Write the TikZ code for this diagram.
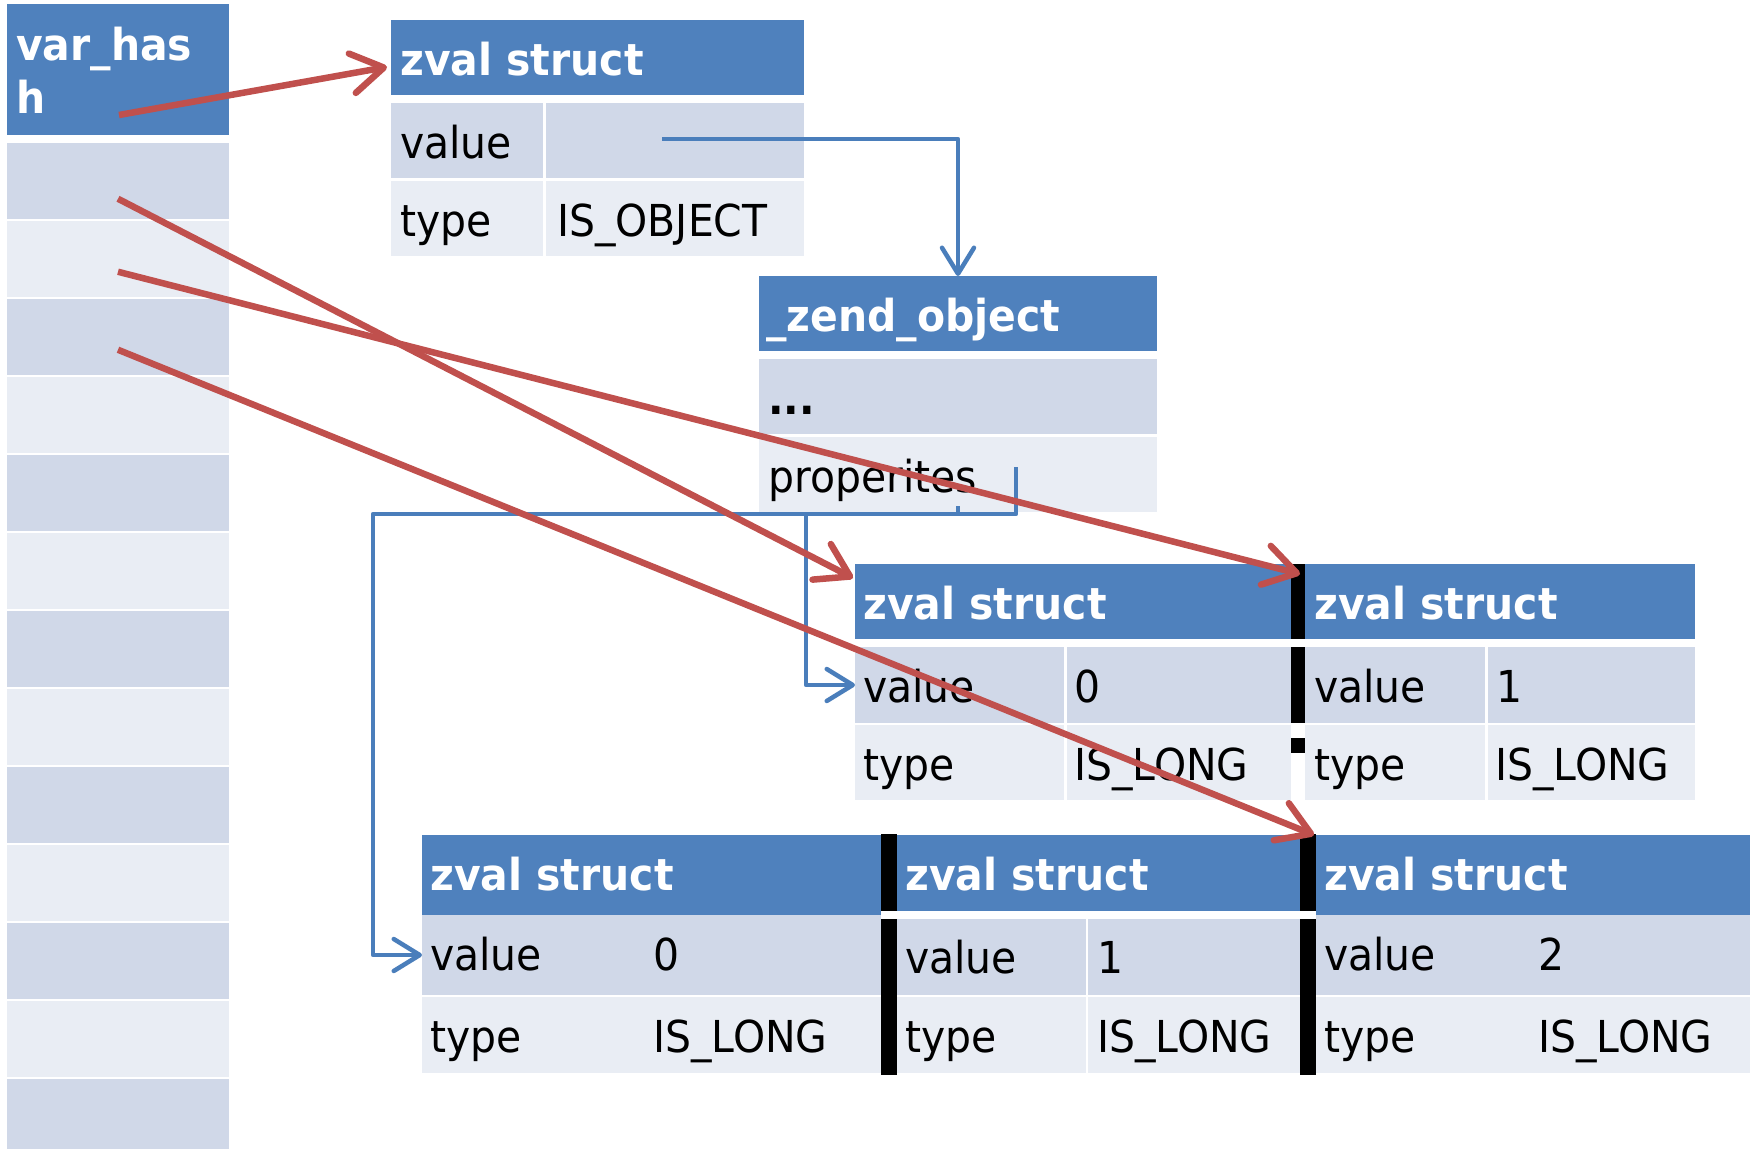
\documentclass[tikz,border=0pt]{standalone}
\usepackage{fontspec}
\setmainfont{DejaVu Sans}[FakeStretch=0.93]
\usetikzlibrary{arrows.meta,calc}
\definecolor{hdblue}{HTML}{4F81BD}
\definecolor{rowdark}{HTML}{D0D8E8}
\definecolor{rowlight}{HTML}{E9EDF4}
\definecolor{arrred}{HTML}{C0504D}
\definecolor{lnblue}{HTML}{4A7EBB}
\newcommand\bodyfont{\fontsize{44}{52}\selectfont}
% a filled cell: name, x1, y1, x2, y2 (pixels, y downwards), fill colour
\newcommand\cbox[6]{\node[cell,fill=#6,minimum width={#4-#2},minimum height={#5-#3}] (#1) at (#2,#3) {};}
% a text label: style, name, x, baseline y, text
\newcommand\ctext[5]{\node[#1] (#2) at (#3,#4) {#5};}
\tikzset{
  cell/.style={inner sep=0pt,outer sep=0pt,draw=none,anchor=north west},
  lbl/.style={anchor=base west,inner sep=0pt,font=\bodyfont,text=black},
  hdl/.style={anchor=base west,inner sep=0pt,font=\bodyfont\bfseries,text=white},
  redarrow/.style={draw=arrred,line width=6.5pt,-{Straight Barb[length=32pt,width=40pt,round]}},
  bluearrow/.style={draw=lnblue,line width=4.5pt,line join=round,-{Straight Barb[length=26pt,width=32pt,round]}},
  barfill/.style={fill=black},
}
\begin{document}
\begin{tikzpicture}[x=1pt,y=-1pt]
\useasboundingbox[fill=white] (0,0) rectangle (1757,1149);

% ---- the hash table column ----
\cbox{vh}{7}{4}{229}{135}{hdblue}
\foreach \k in {0,...,12}{
  \pgfmathsetmacro\ctop{143+78*\k}
  \pgfmathsetmacro\cbot{min(\ctop+75.5,1149)}
  \pgfmathtruncatemacro\odd{mod(\k,2)}
  \ifnum\odd=0 \def\cfill{rowdark}\else\def\cfill{rowlight}\fi
  \cbox{hs\k}{7}{\ctop}{229}{\cbot}{\cfill}
}
\ctext{hdl}{vht1}{16}{60}{var\_has}
\ctext{hdl}{vht2}{16}{113}{h}

% ---- zval holding the object ----
\cbox{zs0h}{391}{20}{804}{95}{hdblue}
\cbox{zs0vl}{391}{103}{543}{178}{rowdark}
\cbox{zs0vv}{546}{103}{804}{178}{rowdark}
\cbox{zs0tl}{391}{181}{543}{256}{rowlight}
\cbox{zs0tv}{546}{181}{804}{256}{rowlight}
\ctext{hdl}{zs0t}{400}{75}{zval struct}
\ctext{lbl}{zs0a}{400}{158}{value}
\ctext{lbl}{zs0b}{400}{236}{type}
\ctext{lbl}{zs0c}{557}{236}{IS\_OBJECT}

% ---- _zend_object ----
\cbox{zoh}{759}{276}{1157}{351}{hdblue}
\cbox{zod}{759}{359}{1157}{434}{rowdark}
\cbox{zop}{759}{437}{1157}{512}{rowlight}
\ctext{hdl}{zot}{766}{331}{\_zend\_object}
\ctext{lbl}{zoa}{768}{414}{\textbf{...}}
\ctext{lbl}{zob}{768}{492}{properites}

% ---- property zvals (upper pair) ----
\cbox{zaH}{855}{564}{1291}{639}{hdblue}
\cbox{zavl}{855}{647}{1064}{723}{rowdark}
\cbox{zavv}{1067}{647}{1291}{723}{rowdark}
\cbox{zatl}{855}{725}{1064}{800}{rowlight}
\cbox{zatv}{1067}{725}{1291}{800}{rowlight}
\cbox{zbH}{1305}{564}{1695}{639}{hdblue}
\cbox{zbvl}{1305}{647}{1485}{723}{rowdark}
\cbox{zbvv}{1488}{647}{1695}{723}{rowdark}
\cbox{zbtl}{1305}{725}{1485}{800}{rowlight}
\cbox{zbtv}{1488}{725}{1695}{800}{rowlight}
\ctext{hdl}{zat}{863}{619}{zval struct}
\ctext{lbl}{zaa}{863}{702}{value}
\ctext{lbl}{zab}{1074}{702}{0}
\ctext{lbl}{zac}{863}{780}{type}
\ctext{lbl}{zad}{1074}{780}{IS\_LONG}
\ctext{hdl}{zbt}{1314}{619}{zval struct}
\ctext{lbl}{zba}{1314}{702}{value}
\ctext{lbl}{zbb}{1496}{702}{1}
\ctext{lbl}{zbc}{1314}{780}{type}
\ctext{lbl}{zbd}{1495}{780}{IS\_LONG}

% ---- property zvals (lower triple) ----
\cbox{zcH}{422}{835}{881}{915}{hdblue}
\cbox{zcv}{422}{915}{881}{995}{rowdark}
\cbox{zct}{422}{997}{881}{1073}{rowlight}
\cbox{zdH}{897}{835}{1300}{911}{hdblue}
\cbox{zdvl}{897}{919}{1086}{995}{rowdark}
\cbox{zdvv}{1088}{919}{1300}{995}{rowdark}
\cbox{zdtl}{897}{997}{1086}{1073}{rowlight}
\cbox{zdtv}{1088}{997}{1300}{1073}{rowlight}
\cbox{zeH}{1316}{835}{1750}{915}{hdblue}
\cbox{zev}{1316}{915}{1750}{995}{rowdark}
\cbox{zet}{1316}{997}{1750}{1073}{rowlight}
\ctext{hdl}{zct1}{430}{890}{zval struct}
\ctext{lbl}{zca}{430}{970}{value}
\ctext{lbl}{zcb}{653}{970}{0}
\ctext{lbl}{zcc}{430}{1052}{type}
\ctext{lbl}{zcd}{653}{1052}{IS\_LONG}
\ctext{hdl}{zdt}{905}{890}{zval struct}
\ctext{lbl}{zda}{905}{973}{value}
\ctext{lbl}{zdb}{1097}{973}{1}
\ctext{lbl}{zdc}{905}{1052}{type}
\ctext{lbl}{zdd}{1097}{1052}{IS\_LONG}
\ctext{hdl}{zet1}{1324}{890}{zval struct}
\ctext{lbl}{zea}{1324}{970}{value}
\ctext{lbl}{zeb}{1538}{970}{2}
\ctext{lbl}{zec}{1324}{1052}{type}
\ctext{lbl}{zed}{1538}{1052}{IS\_LONG}

% ---- black separators between neighbouring zvals ----
\fill[barfill] (1291,564) rectangle (1305,639);
\fill[barfill] (1291,647) rectangle (1305,723);
\fill[barfill] (1291,738) rectangle (1305,753);
\fill[barfill] (881,834) rectangle (897,911);
\fill[barfill] (881,919) rectangle (897,1075);
\fill[barfill] (1300,834) rectangle (1316,911);
\fill[barfill] (1300,919) rectangle (1316,1075);

% ---- pointer connectors (blue) ----
\coordinate (b1s) at ($(zs0vv.center)+(-13,-1.5)$);
\coordinate (b2s) at ($(zop.center)+(58,-7.5)$);
\coordinate (b3s) at ($(zop.south)+(0,-6)$);
\coordinate (bj) at (373,514);
\coordinate (bk) at (806,514);
\draw[bluearrow] (b1s) -| (zoh.north);
\draw[bluearrow] (b2s) |- (bj) |- (zcv.west);
\draw[bluearrow] (b3s) |- (bk) |- (zavl.west);

% ---- hash buckets to zvals (red) ----
\draw[redarrow] ($(vh.center)+(1,45.5)$) -- ($(zs0h.west)+(-4,9.5)$);
\draw[redarrow] ($(hs0.center)+(0,18)$) -- ($(zaH.west)+(-2,-23.5)$);
\draw[redarrow] ($(hs1.center)+(0,13)$) -- ($(zbH.west)+(-5,-27.5)$);
\draw[redarrow] ($(hs2.center)+(0,13)$) -- ($(zeH.north west)+(-2,0)$);
\end{tikzpicture}
\end{document}
